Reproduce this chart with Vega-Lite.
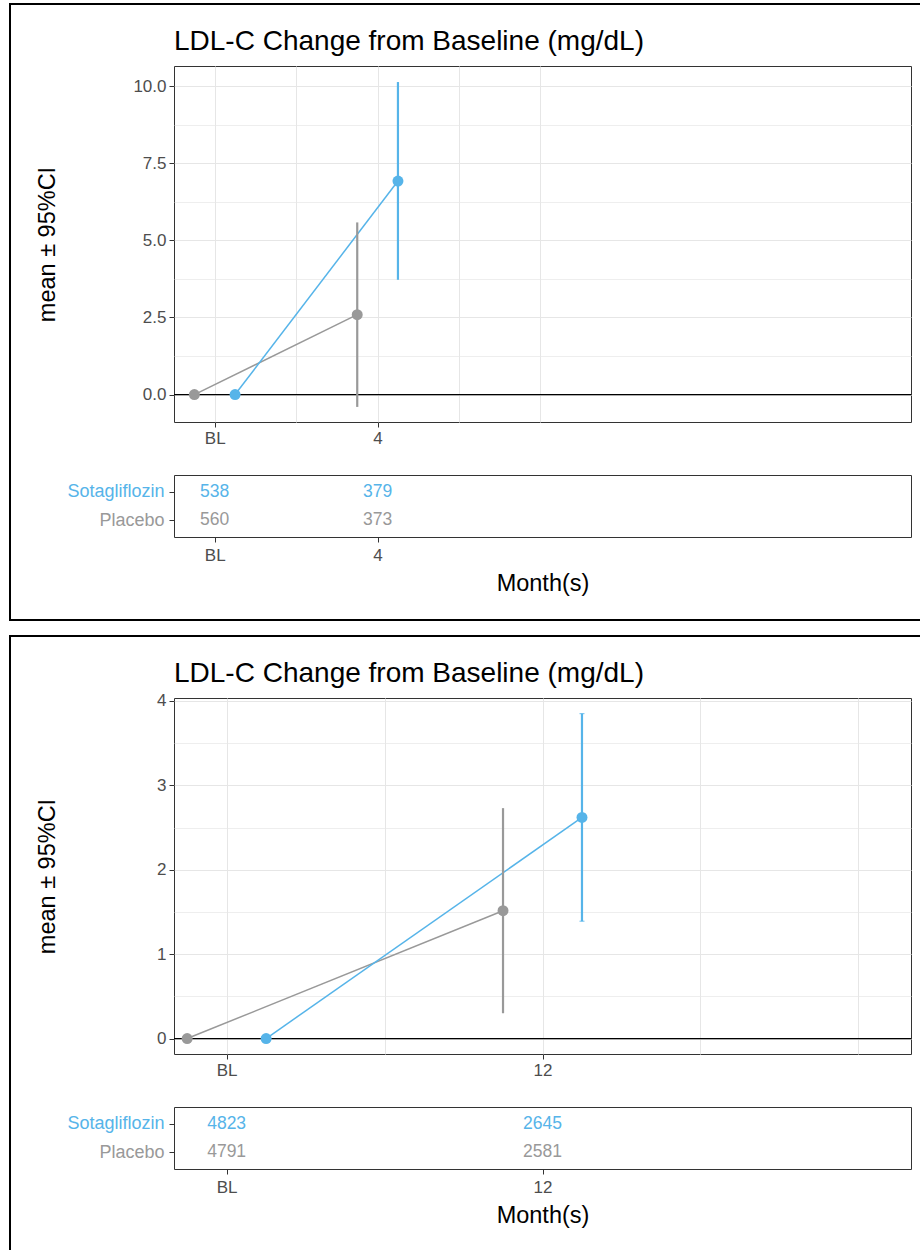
{
  "$schema": "https://vega.github.io/schema/vega-lite/v6.json",
  "padding": {"left": 9, "top": 3, "right": 0, "bottom": 0},
  "autosize": {"type": "pad"},
  "datasets": {
    "month4": [
      {"month": 0, "arm": "Placebo", "mean": 0, "lo": 0, "hi": 0, "n": 560},
      {"month": 0, "arm": "Sotagliflozin", "mean": 0, "lo": 0, "hi": 0, "n": 538},
      {"month": 4, "arm": "Placebo", "mean": 2.59, "lo": -0.40, "hi": 5.58, "n": 373},
      {"month": 4, "arm": "Sotagliflozin", "mean": 6.92, "lo": 3.72, "hi": 10.13, "n": 379}
    ],
    "month12": [
      {"month": 0, "arm": "Placebo", "mean": 0, "lo": 0, "hi": 0, "n": 4791},
      {"month": 0, "arm": "Sotagliflozin", "mean": 0, "lo": 0, "hi": 0, "n": 4823},
      {"month": 12, "arm": "Placebo", "mean": 1.515, "lo": 0.30, "hi": 2.73, "n": 2581},
      {"month": 12, "arm": "Sotagliflozin", "mean": 2.62, "lo": 1.39, "hi": 3.85, "n": 2645}
    ],
    "reference": [{"ref": 0}]
  },
  "vconcat": [
    {
      "concat": [
        {"width": 910, "height": 616, "view": {"stroke": "#000000", "strokeWidth": 2, "strokeDash": [910, 616, 1600]}, "data": {"values": []}, "mark": "point", "encoding": {}},
        {
          "vconcat": [
            {"width": 10, "height": 1, "data": {"values": []}, "mark": "point", "encoding": {}},
            {
              "vconcat": [
                {
                  "width": 737, "height": 356,
                  "view": {"stroke": "#333333", "strokeWidth": 1},
                  "title": {"text": "LDL-C Change from Baseline (mg/dL)"},
                  "data": {"name": "month4"},
                  "transform": [{"calculate": "datum.month + (datum.arm === 'Sotagliflozin' ? 0.5 : -0.5)", "as": "xpos"}],
                  "layer": [
                    {"data": {"name": "reference"}, "mark": {"type": "rule", "color": "#000000", "strokeWidth": 1.3},
                     "encoding": {
                       "y": {"field": "ref", "type": "quantitative", "scale": {"domain": [-0.889, 10.65], "nice": false, "zero": false},
                             "axis": {"values": [0, 1.25, 2.5, 3.75, 5, 6.25, 7.5, 8.75, 10],
                                      "labelExpr": "datum.value % 2.5 == 0 ? format(datum.value, '.1f') : ''",
                                      "tickOpacity": {"condition": {"test": "datum.value % 2.5 == 0", "value": 1}, "value": 0},
                                      "gridWidth": {"condition": {"test": "datum.value % 2.5 == 0", "value": 1.1}, "value": 0.7},
                                      "grid": true, "domain": false, "title": "mean ± 95%CI", "minExtent": 100, "maxExtent": 100, "titlePadding": 15, "labelOverlap": false, "labelFlush": false}}
                     }},
                    {"mark": {"type": "line", "strokeWidth": 1.5},
                     "encoding": {
                       "x": {"field": "xpos", "type": "quantitative", "scale": {"domain": [-1, 17.1], "nice": false, "zero": false},
                             "axis": {"values": [0, 2, 4, 6, 8], "labelExpr": "datum.value == 0 ? 'BL' : (datum.value == 4 ? '4' : '')",
                                      "tickOpacity": {"condition": {"test": "datum.value == 0 || datum.value == 4", "value": 1}, "value": 0},
                                      "grid": true, "domain": false, "title": null, "labelOverlap": false, "labelFlush": false}},
                       "y": {"field": "mean", "type": "quantitative", "scale": {"domain": [-0.889, 10.65], "nice": false, "zero": false},
                             "axis": {"values": [0, 1.25, 2.5, 3.75, 5, 6.25, 7.5, 8.75, 10],
                                      "labelExpr": "datum.value % 2.5 == 0 ? format(datum.value, '.1f') : ''",
                                      "tickOpacity": {"condition": {"test": "datum.value % 2.5 == 0", "value": 1}, "value": 0},
                                      "gridWidth": {"condition": {"test": "datum.value % 2.5 == 0", "value": 1.1}, "value": 0.7},
                                      "grid": true, "domain": false, "title": "mean ± 95%CI", "minExtent": 100, "maxExtent": 100, "titlePadding": 15, "labelOverlap": false, "labelFlush": false}},
                       "color": {"field": "arm", "type": "nominal", "scale": {"domain": ["Sotagliflozin", "Placebo"], "range": ["#56B4E9", "#999999"]}, "legend": null}
                     }},
                    {"mark": {"type": "rule", "strokeWidth": 2.2},
                     "encoding": {
                       "x": {"field": "xpos", "type": "quantitative", "scale": {"domain": [-1, 17.1], "nice": false, "zero": false},
                             "axis": {"values": [0, 2, 4, 6, 8], "labelExpr": "datum.value == 0 ? 'BL' : (datum.value == 4 ? '4' : '')",
                                      "tickOpacity": {"condition": {"test": "datum.value == 0 || datum.value == 4", "value": 1}, "value": 0},
                                      "grid": true, "domain": false, "title": null, "labelOverlap": false, "labelFlush": false}},
                       "y": {"field": "lo", "type": "quantitative", "scale": {"domain": [-0.889, 10.65], "nice": false, "zero": false},
                             "axis": {"values": [0, 1.25, 2.5, 3.75, 5, 6.25, 7.5, 8.75, 10],
                                      "labelExpr": "datum.value % 2.5 == 0 ? format(datum.value, '.1f') : ''",
                                      "tickOpacity": {"condition": {"test": "datum.value % 2.5 == 0", "value": 1}, "value": 0},
                                      "gridWidth": {"condition": {"test": "datum.value % 2.5 == 0", "value": 1.1}, "value": 0.7},
                                      "grid": true, "domain": false, "title": "mean ± 95%CI", "minExtent": 100, "maxExtent": 100, "titlePadding": 15, "labelOverlap": false, "labelFlush": false}},
                       "y2": {"field": "hi"},
                       "color": {"field": "arm", "type": "nominal", "scale": {"domain": ["Sotagliflozin", "Placebo"], "range": ["#56B4E9", "#999999"]}, "legend": null}
                     }},
                    {"mark": {"type": "circle", "size": 120, "opacity": 1},
                     "encoding": {
                       "x": {"field": "xpos", "type": "quantitative", "scale": {"domain": [-1, 17.1], "nice": false, "zero": false},
                             "axis": {"values": [0, 2, 4, 6, 8], "labelExpr": "datum.value == 0 ? 'BL' : (datum.value == 4 ? '4' : '')",
                                      "tickOpacity": {"condition": {"test": "datum.value == 0 || datum.value == 4", "value": 1}, "value": 0},
                                      "grid": true, "domain": false, "title": null, "labelOverlap": false, "labelFlush": false}},
                       "y": {"field": "mean", "type": "quantitative", "scale": {"domain": [-0.889, 10.65], "nice": false, "zero": false},
                             "axis": {"values": [0, 1.25, 2.5, 3.75, 5, 6.25, 7.5, 8.75, 10],
                                      "labelExpr": "datum.value % 2.5 == 0 ? format(datum.value, '.1f') : ''",
                                      "tickOpacity": {"condition": {"test": "datum.value % 2.5 == 0", "value": 1}, "value": 0},
                                      "gridWidth": {"condition": {"test": "datum.value % 2.5 == 0", "value": 1.1}, "value": 0.7},
                                      "grid": true, "domain": false, "title": "mean ± 95%CI", "minExtent": 100, "maxExtent": 100, "titlePadding": 15, "labelOverlap": false, "labelFlush": false}},
                       "color": {"field": "arm", "type": "nominal", "scale": {"domain": ["Sotagliflozin", "Placebo"], "range": ["#56B4E9", "#999999"]}, "legend": null}
                     }}
                  ]
                },
                {
                  "width": 737, "height": 62,
                  "view": {"stroke": "#333333", "strokeWidth": 1},
                  "data": {"name": "month4"},
                  "mark": {"type": "text", "fontSize": 17.5, "baseline": "middle", "align": "center"},
                  "encoding": {
                    "x": {"field": "month", "type": "quantitative", "scale": {"domain": [-1, 17.1], "nice": false, "zero": false},
                          "axis": {"values": [0, 4], "labelExpr": "datum.value == 0 ? 'BL' : datum.label", "grid": false, "domain": false, "title": "Month(s)", "titlePadding": 8, "labelPadding": 5, "labelOverlap": false, "labelFlush": false}},
                    "y": {"field": "arm", "type": "nominal", "scale": {"type": "point", "padding": 0.6, "domain": ["Sotagliflozin", "Placebo"]},
                          "axis": {"title": null, "grid": false, "domain": false, "labelFontSize": 18, "labelPadding": 5,
                                   "labelColor": {"condition": {"test": "datum.value == 'Sotagliflozin'", "value": "#56B4E9"}, "value": "#999999"}}},
                    "text": {"field": "n", "type": "quantitative", "format": "d"},
                    "color": {"field": "arm", "type": "nominal", "scale": {"domain": ["Sotagliflozin", "Placebo"], "range": ["#56B4E9", "#999999"]}, "legend": null}
                  }
                }
              ],
              "spacing": 27
            }
          ],
          "spacing": 22
        }
      ],
      "columns": 2,
      "align": "none",
      "spacing": {"column": -887, "row": 0}
    },
    {
      "concat": [
        {"width": 910, "height": 614, "view": {"stroke": "#000000", "strokeWidth": 2, "strokeDash": [910, 1524, 700]}, "data": {"values": []}, "mark": "point", "encoding": {}},
        {
          "vconcat": [
            {"width": 10, "height": 1, "data": {"values": []}, "mark": "point", "encoding": {}},
            {
              "vconcat": [
                {
                  "width": 737, "height": 356,
                  "view": {"stroke": "#333333", "strokeWidth": 1},
                  "title": {"text": "LDL-C Change from Baseline (mg/dL)", "offset": 4},
                  "data": {"name": "month12"},
                  "transform": [{"calculate": "datum.month + (datum.arm === 'Sotagliflozin' ? 1.5 : -1.5)", "as": "xpos"}],
                  "layer": [
                    {"data": {"name": "reference"}, "mark": {"type": "rule", "color": "#000000", "strokeWidth": 1.3},
                     "encoding": {
                       "y": {"field": "ref", "type": "quantitative", "scale": {"domain": [-0.183, 4.035], "nice": false, "zero": false},
                             "axis": {"values": [0, 0.5, 1, 1.5, 2, 2.5, 3, 3.5, 4],
                                      "labelExpr": "datum.value % 1 == 0 ? format(datum.value, 'd') : ''",
                                      "tickOpacity": {"condition": {"test": "datum.value % 1 == 0", "value": 1}, "value": 0},
                                      "gridWidth": {"condition": {"test": "datum.value % 1 == 0", "value": 1.1}, "value": 0.7},
                                      "grid": true, "domain": false, "title": "mean ± 95%CI", "minExtent": 100, "maxExtent": 100, "titlePadding": 15, "labelOverlap": false, "labelFlush": false}}
                     }},
                    {"mark": {"type": "line", "strokeWidth": 1.5},
                     "encoding": {
                       "x": {"field": "xpos", "type": "quantitative", "scale": {"domain": [-2, 26], "nice": false, "zero": false},
                             "axis": {"values": [0, 6, 12, 18, 24], "labelExpr": "datum.value == 0 ? 'BL' : (datum.value == 12 ? '12' : '')",
                                      "tickOpacity": {"condition": {"test": "datum.value == 0 || datum.value == 12", "value": 1}, "value": 0},
                                      "grid": true, "domain": false, "title": null, "labelOverlap": false, "labelFlush": false}},
                       "y": {"field": "mean", "type": "quantitative", "scale": {"domain": [-0.183, 4.035], "nice": false, "zero": false},
                             "axis": {"values": [0, 0.5, 1, 1.5, 2, 2.5, 3, 3.5, 4],
                                      "labelExpr": "datum.value % 1 == 0 ? format(datum.value, 'd') : ''",
                                      "tickOpacity": {"condition": {"test": "datum.value % 1 == 0", "value": 1}, "value": 0},
                                      "gridWidth": {"condition": {"test": "datum.value % 1 == 0", "value": 1.1}, "value": 0.7},
                                      "grid": true, "domain": false, "title": "mean ± 95%CI", "minExtent": 100, "maxExtent": 100, "titlePadding": 15, "labelOverlap": false, "labelFlush": false}},
                       "color": {"field": "arm", "type": "nominal", "scale": {"domain": ["Sotagliflozin", "Placebo"], "range": ["#56B4E9", "#999999"]}, "legend": null}
                     }},
                    {"mark": {"type": "rule", "strokeWidth": 2.2},
                     "encoding": {
                       "x": {"field": "xpos", "type": "quantitative", "scale": {"domain": [-2, 26], "nice": false, "zero": false},
                             "axis": {"values": [0, 6, 12, 18, 24], "labelExpr": "datum.value == 0 ? 'BL' : (datum.value == 12 ? '12' : '')",
                                      "tickOpacity": {"condition": {"test": "datum.value == 0 || datum.value == 12", "value": 1}, "value": 0},
                                      "grid": true, "domain": false, "title": null, "labelOverlap": false, "labelFlush": false}},
                       "y": {"field": "lo", "type": "quantitative", "scale": {"domain": [-0.183, 4.035], "nice": false, "zero": false},
                             "axis": {"values": [0, 0.5, 1, 1.5, 2, 2.5, 3, 3.5, 4],
                                      "labelExpr": "datum.value % 1 == 0 ? format(datum.value, 'd') : ''",
                                      "tickOpacity": {"condition": {"test": "datum.value % 1 == 0", "value": 1}, "value": 0},
                                      "gridWidth": {"condition": {"test": "datum.value % 1 == 0", "value": 1.1}, "value": 0.7},
                                      "grid": true, "domain": false, "title": "mean ± 95%CI", "minExtent": 100, "maxExtent": 100, "titlePadding": 15, "labelOverlap": false, "labelFlush": false}},
                       "y2": {"field": "hi"},
                       "color": {"field": "arm", "type": "nominal", "scale": {"domain": ["Sotagliflozin", "Placebo"], "range": ["#56B4E9", "#999999"]}, "legend": null}
                     }},
                    {"transform": [{"filter": "datum.arm === 'Sotagliflozin' && datum.month == 12"}],
                     "mark": {"type": "tick", "orient": "horizontal", "size": 5, "thickness": 1.2},
                     "encoding": {
                       "x": {"field": "xpos", "type": "quantitative", "scale": {"domain": [-2, 26], "nice": false, "zero": false},
                             "axis": {"values": [0, 6, 12, 18, 24], "labelExpr": "datum.value == 0 ? 'BL' : (datum.value == 12 ? '12' : '')",
                                      "tickOpacity": {"condition": {"test": "datum.value == 0 || datum.value == 12", "value": 1}, "value": 0},
                                      "grid": true, "domain": false, "title": null, "labelOverlap": false, "labelFlush": false}},
                       "y": {"field": "hi", "type": "quantitative", "scale": {"domain": [-0.183, 4.035], "nice": false, "zero": false},
                             "axis": {"values": [0, 0.5, 1, 1.5, 2, 2.5, 3, 3.5, 4],
                                      "labelExpr": "datum.value % 1 == 0 ? format(datum.value, 'd') : ''",
                                      "tickOpacity": {"condition": {"test": "datum.value % 1 == 0", "value": 1}, "value": 0},
                                      "gridWidth": {"condition": {"test": "datum.value % 1 == 0", "value": 1.1}, "value": 0.7},
                                      "grid": true, "domain": false, "title": "mean ± 95%CI", "minExtent": 100, "maxExtent": 100, "titlePadding": 15, "labelOverlap": false, "labelFlush": false}},
                       "color": {"field": "arm", "type": "nominal", "scale": {"domain": ["Sotagliflozin", "Placebo"], "range": ["#56B4E9", "#999999"]}, "legend": null}
                     }},
                    {"transform": [{"filter": "datum.arm === 'Sotagliflozin' && datum.month == 12"}],
                     "mark": {"type": "tick", "orient": "horizontal", "size": 5, "thickness": 1.2},
                     "encoding": {
                       "x": {"field": "xpos", "type": "quantitative", "scale": {"domain": [-2, 26], "nice": false, "zero": false},
                             "axis": {"values": [0, 6, 12, 18, 24], "labelExpr": "datum.value == 0 ? 'BL' : (datum.value == 12 ? '12' : '')",
                                      "tickOpacity": {"condition": {"test": "datum.value == 0 || datum.value == 12", "value": 1}, "value": 0},
                                      "grid": true, "domain": false, "title": null, "labelOverlap": false, "labelFlush": false}},
                       "y": {"field": "lo", "type": "quantitative", "scale": {"domain": [-0.183, 4.035], "nice": false, "zero": false},
                             "axis": {"values": [0, 0.5, 1, 1.5, 2, 2.5, 3, 3.5, 4],
                                      "labelExpr": "datum.value % 1 == 0 ? format(datum.value, 'd') : ''",
                                      "tickOpacity": {"condition": {"test": "datum.value % 1 == 0", "value": 1}, "value": 0},
                                      "gridWidth": {"condition": {"test": "datum.value % 1 == 0", "value": 1.1}, "value": 0.7},
                                      "grid": true, "domain": false, "title": "mean ± 95%CI", "minExtent": 100, "maxExtent": 100, "titlePadding": 15, "labelOverlap": false, "labelFlush": false}},
                       "color": {"field": "arm", "type": "nominal", "scale": {"domain": ["Sotagliflozin", "Placebo"], "range": ["#56B4E9", "#999999"]}, "legend": null}
                     }},
                    {"mark": {"type": "circle", "size": 120, "opacity": 1},
                     "encoding": {
                       "x": {"field": "xpos", "type": "quantitative", "scale": {"domain": [-2, 26], "nice": false, "zero": false},
                             "axis": {"values": [0, 6, 12, 18, 24], "labelExpr": "datum.value == 0 ? 'BL' : (datum.value == 12 ? '12' : '')",
                                      "tickOpacity": {"condition": {"test": "datum.value == 0 || datum.value == 12", "value": 1}, "value": 0},
                                      "grid": true, "domain": false, "title": null, "labelOverlap": false, "labelFlush": false}},
                       "y": {"field": "mean", "type": "quantitative", "scale": {"domain": [-0.183, 4.035], "nice": false, "zero": false},
                             "axis": {"values": [0, 0.5, 1, 1.5, 2, 2.5, 3, 3.5, 4],
                                      "labelExpr": "datum.value % 1 == 0 ? format(datum.value, 'd') : ''",
                                      "tickOpacity": {"condition": {"test": "datum.value % 1 == 0", "value": 1}, "value": 0},
                                      "gridWidth": {"condition": {"test": "datum.value % 1 == 0", "value": 1.1}, "value": 0.7},
                                      "grid": true, "domain": false, "title": "mean ± 95%CI", "minExtent": 100, "maxExtent": 100, "titlePadding": 15, "labelOverlap": false, "labelFlush": false}},
                       "color": {"field": "arm", "type": "nominal", "scale": {"domain": ["Sotagliflozin", "Placebo"], "range": ["#56B4E9", "#999999"]}, "legend": null}
                     }}
                  ]
                },
                {
                  "width": 737, "height": 62,
                  "view": {"stroke": "#333333", "strokeWidth": 1},
                  "data": {"name": "month12"},
                  "mark": {"type": "text", "fontSize": 17.5, "baseline": "middle", "align": "center"},
                  "encoding": {
                    "x": {"field": "month", "type": "quantitative", "scale": {"domain": [-2, 26], "nice": false, "zero": false},
                          "axis": {"values": [0, 12], "labelExpr": "datum.value == 0 ? 'BL' : datum.label", "grid": false, "domain": false, "title": "Month(s)", "titlePadding": 8, "labelPadding": 5, "labelOverlap": false, "labelFlush": false}},
                    "y": {"field": "arm", "type": "nominal", "scale": {"type": "point", "padding": 0.6, "domain": ["Sotagliflozin", "Placebo"]},
                          "axis": {"title": null, "grid": false, "domain": false, "labelFontSize": 18, "labelPadding": 5,
                                   "labelColor": {"condition": {"test": "datum.value == 'Sotagliflozin'", "value": "#56B4E9"}, "value": "#999999"}}},
                    "text": {"field": "n", "type": "quantitative", "format": "d"},
                    "color": {"field": "arm", "type": "nominal", "scale": {"domain": ["Sotagliflozin", "Placebo"], "range": ["#56B4E9", "#999999"]}, "legend": null}
                  }
                }
              ],
              "spacing": 27
            }
          ],
          "spacing": 22
        }
      ],
      "columns": 2,
      "align": "none",
      "spacing": {"column": -887, "row": 0}
    }
  ],
  "spacing": 14,
  "config": {
    "font": "Liberation Sans",
    "view": {"stroke": null},
    "axis": {
      "labelFont": "Liberation Sans", "titleFont": "Liberation Sans",
      "labelColor": "#4D4D4D", "labelFontSize": 17, "labelPadding": 3,
      "tickColor": "#333333", "tickSize": 5, "tickWidth": 1,
      "gridColor": "#E6E6E6", "gridWidth": 1,
      "titleFontSize": 23.5, "titleFontWeight": "normal", "titleColor": "#000000"
    },
    "title": {"font": "Liberation Sans", "fontSize": 28, "fontWeight": "normal", "color": "#000000", "anchor": "start", "frame": "group", "offset": 10},
    "text": {"font": "Liberation Sans"}
  }
}
